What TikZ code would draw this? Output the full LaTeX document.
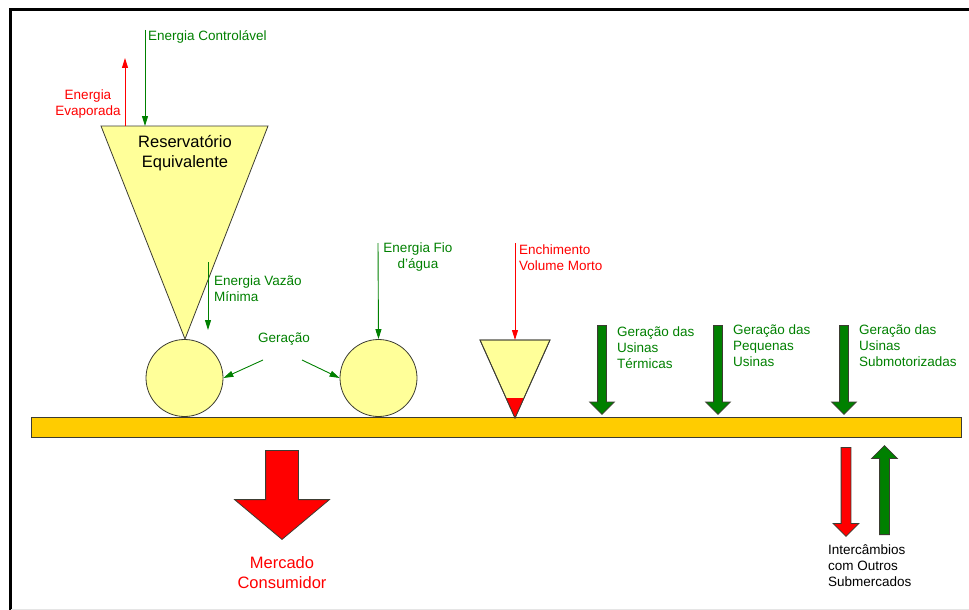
\documentclass[tikz,border=0pt]{standalone}
\usepackage{fontspec}
\setmainfont{Liberation Sans}
\usepackage{tikz}
\usetikzlibrary{arrows.meta,shapes.arrows}

\definecolor{ongreen}{RGB}{0,128,0}
\definecolor{onred}{RGB}{255,0,0}
\definecolor{paleyellow}{RGB}{255,255,153}
\definecolor{busyellow}{RGB}{255,204,0}
\definecolor{edgegray}{RGB}{60,60,50}

\begin{document}
\begin{tikzpicture}[x=1pt, y=-1pt,
    lbl/.style={inner sep=0, font=\fontsize{13.5}{16}\selectfont},
    biglbl/.style={inner sep=0, align=center, font=\fontsize{16.5}{20}\selectfont},
    thin arrow/.style={line width=0.9, -{Triangle[length=10,width=6]}},
    blockdown/.style={single arrow, draw=edgegray, line width=0.8, rotate=-90, anchor=tail,
        single arrow head indent=0, inner xsep=0},
    plant/.style={circle, draw=edgegray, line width=0.8, fill=paleyellow, minimum size=77}]
  \useasboundingbox (0,0) rectangle (969,610);
  % frame
  \draw[line width=3] (10,610) -- (10,10) -- (969,10);
  \draw[black!10, line width=1] (11,609) -- (969,609);

  % barramento
  \node[rectangle, draw=edgegray, line width=1, fill=busyellow,
        minimum width=930, minimum height=20, inner sep=0] (bus) at (496,427) {};

  % reservatorio equivalente
  \coordinate (resL) at (101,126);
  \coordinate (resR) at (268,126);
  \coordinate (resTip) at (185,339);
  \draw[edgegray, line width=0.8, fill=paleyellow] (resL) -- (resR) -- (resTip) -- cycle;
  \node[biglbl] (resLbl) at (185,153) {Reservatório\\Equivalente};

  \coordinate (resEvap) at (125,126);
  \coordinate (evapTop) at (125,58);
  \draw[thin arrow, onred] (resEvap) -- (evapTop);
  \node[lbl, onred, align=center] (evapLbl) at (88,104) {Energia\\Evaporada};

  \coordinate (ctrlTop) at (145,30);
  \coordinate (resCtrl) at (145,126);
  \draw[thin arrow, ongreen] (ctrlTop) -- (resCtrl);
  \node[lbl, ongreen, anchor=west] (ctrlLbl) at (148,37) {Energia Controlável};

  % usinas
  \node[plant] (ger1) at (184.5,378) {};
  \node[plant] (ger2) at (378.5,378) {};

  \coordinate (vazTop) at (208,262);
  \coordinate (vazEnd) at (208,330);
  \draw[thin arrow, ongreen] (vazTop) -- (vazEnd);
  \node[lbl, ongreen, anchor=west, align=left] (vazLbl) at (214,289) {Energia Vazão\\Mínima};

  \coordinate (fioTop) at (378,243);
  \draw[thin arrow, ongreen] (fioTop) -- (ger2.north);
  \node[lbl, ongreen, align=center] (fioLbl) at (418,257) {Energia Fio\\d’água};

  \node[lbl, ongreen] (gerLbl) at (284,339) {Geração};
  \coordinate (gerA) at (263,360);
  \coordinate (gerB) at (302,360);
  \draw[thin arrow, ongreen] (gerA) -- (ger1.east);
  \draw[thin arrow, ongreen] (gerB) -- (ger2.west);

  % volume morto
  \coordinate (mortoL) at (480,340);
  \coordinate (mortoR) at (550,340);
  \coordinate (mortoTip) at (515,418);
  \coordinate (mortoTop) at (515,340);
  \draw[edgegray, line width=0.8, fill=paleyellow] (mortoL) -- (mortoR) -- (mortoTip) -- cycle;
  \fill[onred] (506,398) -- (524,398) -- (mortoTip) -- cycle;
  \draw[edgegray, line width=0.8] (mortoL) -- (mortoR) -- (mortoTip) -- cycle;
  \coordinate (enchTop) at (515,243);
  \draw[thin arrow, onred] (enchTop) -- (mortoTop);
  \node[lbl, onred, anchor=west, align=left] (enchLbl) at (519,258) {Enchimento\\Volume Morto};

  % outras geracoes
  \foreach \x/\name in {602/term, 718/peq, 844/sub} {
    \node[blockdown, fill=ongreen, minimum height=89, minimum width=24,
          inner ysep=4, single arrow head extend=8] (\name) at (\x,325) {};
  }
  \node[lbl, ongreen, anchor=west, align=left] (termLbl) at (617,348) {Geração das\\Usinas\\Térmicas};
  \node[lbl, ongreen, anchor=west, align=left] (peqLbl) at (733,345.5) {Geração das\\Pequenas\\Usinas};
  \node[lbl, ongreen, anchor=west, align=left] (subLbl) at (859,345.5) {Geração das\\Usinas\\Submotorizadas};

  % mercado
  \node[blockdown, fill=onred, minimum height=89, minimum width=94,
        inner ysep=16, single arrow head extend=31, single arrow tip angle=100] (merc) at (282,450) {};
  \node[biglbl, onred] (mercLbl) at (282,573) {Mercado\\Consumidor};

  % intercambios
  \node[blockdown, fill=onred, minimum height=89, minimum width=25,
        inner ysep=4.5, single arrow head extend=8] (intOut) at (846,447) {};
  \node[blockdown, fill=ongreen, rotate=180, minimum height=89, minimum width=25,
        inner ysep=4.5, single arrow head extend=8] (intIn) at (884.5,535) {};
  \node[lbl, anchor=west, align=left] (intLbl) at (828,566) {Intercâmbios\\com Outros\\Submercados};
\end{tikzpicture}
\end{document}
